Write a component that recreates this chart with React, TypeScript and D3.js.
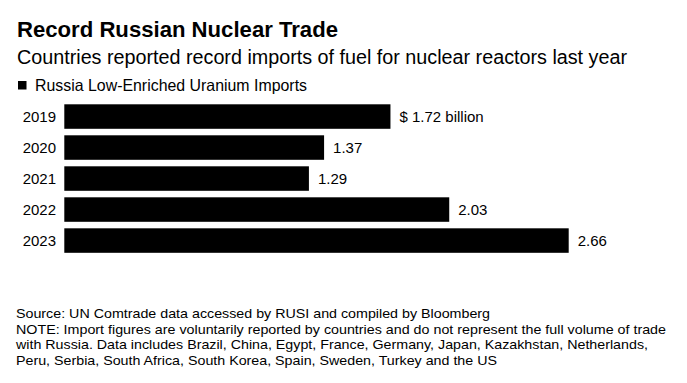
import React from "react";
import * as d3 from "d3";

const years = ["2019", "2020", "2021", "2022", "2023"];
const values = [1.72, 1.37, 1.29, 2.03, 2.66];
const valueLabels = ["$ 1.72 billion", "1.37", "1.29", "2.03", "2.66"];
const title = "Record Russian Nuclear Trade";
const subtitle = "Countries reported record imports of fuel for nuclear reactors last year";
const legendLabel = "Russia Low-Enriched Uranium Imports";
const footerLines = [
  "Source: UN Comtrade data accessed by RUSI and compiled by Bloomberg",
  "NOTE: Import figures are voluntarily reported by countries and do not represent the full volume of trade",
  "with Russia. Data includes Brazil, China, Egypt, France, Germany, Japan, Kazakhstan, Netherlands,",
  "Peru, Serbia, South Africa, South Korea, Spain, Sweden, Turkey and the US",
];
const footerWidths = [474, 650, 632, 481];

export default function App() {
  const W = 687;
  const H = 383;
  const x = d3.scaleLinear().domain([0, d3.max(values) as number]).range([64.3, 568.7]);
  const y = d3.scaleBand<string>().domain(years).range([104.3, 252.8]).paddingInner(0.21).paddingOuter(0);
  const font = "'Liberation Sans', Arial, Helvetica, sans-serif";

  return (
    <svg
      width={W}
      height={H}
      style={{ position: "absolute", left: 0, top: 0, background: "#fff" }}
      fontFamily={font}
    >
      <rect x={0} y={0} width={W} height={H} fill="#fff" />
      <text x={17} y={36.7} fontSize={22} fontWeight="bold" fill="#000" textLength={321} lengthAdjust="spacingAndGlyphs">
        {title}
      </text>
      <text x={17} y={63.5} fontSize={19.5} fill="#000" textLength={610} lengthAdjust="spacingAndGlyphs">
        {subtitle}
      </text>
      <rect x={18} y={81} width={8.5} height={8.5} fill="#000" />
      <text x={35} y={90.5} fontSize={16.5} fill="#000" textLength={272} lengthAdjust="spacingAndGlyphs">
        {legendLabel}
      </text>
      {years.map((yr, i) => {
        const yy = y(yr) as number;
        const bw = y.bandwidth();
        return (
          <g key={yr}>
            <text x={56} y={yy + bw / 2 + 5.3} fontSize={15} textAnchor="end" fill="#000">
              {yr}
            </text>
            <rect x={x(0)} y={yy} width={x(values[i]) - x(0)} height={bw} fill="#000" />
            <text x={x(values[i]) + 9} y={yy + bw / 2 + 5.3} fontSize={15} fill="#000">
              {valueLabels[i]}
            </text>
          </g>
        );
      })}
      {footerLines.map((l, i) => (
        <text
          key={i}
          x={16}
          y={317.7 + i * 15.8}
          fontSize={13.5}
          fill="#000"
          textLength={footerWidths[i]}
          lengthAdjust="spacingAndGlyphs"
        >
          {l}
        </text>
      ))}
    </svg>
  );
}
